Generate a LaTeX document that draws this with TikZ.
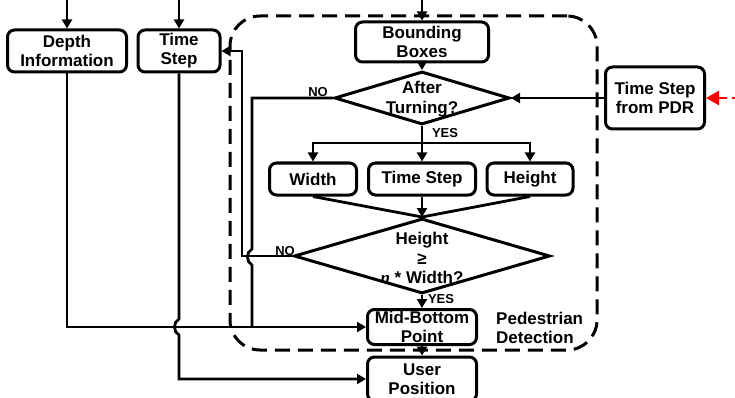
\documentclass[tikz,border=0pt]{standalone}
\usepackage{fontspec}
\setmainfont{Liberation Sans}
\newfontfamily\varserif{Liberation Serif}
\usetikzlibrary{arrows.meta,shapes.geometric,positioning}

\begin{document}
\begin{tikzpicture}[x=1pt,y=-1pt]
\tikzset{
  flowbox/.style={rectangle,rounded corners=7pt,draw=black,line width=3pt,inner sep=0pt,align=center,font=\fontsize{17}{19}\selectfont\bfseries},
  decision/.style={diamond,draw=black,line width=3pt,inner sep=0pt},
  flowtext/.style={align=center,inner sep=0pt,font=\fontsize{17}{19.5}\selectfont\bfseries},
  smalllabel/.style={inner sep=0pt,font=\fontsize{13}{14}\selectfont\bfseries},
  flowedge/.style={draw=black,line width=2.8pt},
  flowarrow/.style={flowedge,-{Triangle[length=9pt,width=10pt]}},
  pdrarrow/.style={draw=red,line width=2.8pt,dash pattern=on 8pt off 5pt,-{Triangle[length=13pt,width=14pt]}},
  region/.style={draw=black,line width=3pt,dash pattern=on 15pt off 8pt,rounded corners=30pt,inner sep=0pt}
}
\useasboundingbox (0,0) rectangle (735,398);
% pedestrian detection frame
\node[region,minimum width=367pt,minimum height=334pt] (n_region) at (413.5,183) {};
\node[flowtext,align=left,anchor=west] (t_region) at (496,328) {Pedestrian\\Detection};
% inputs
\node[flowbox,minimum width=119pt,minimum height=42pt] (n_depth) at (67,51) {Depth\\Information};
\node[flowbox,minimum width=82pt,minimum height=42pt] (n_tstep) at (179,51) {Time\\Step};
\node[flowbox,minimum width=133pt,minimum height=40pt] (n_bbox) at (422,42) {Bounding\\Boxes};
\node[flowbox,minimum width=99pt,minimum height=62pt] (n_pdr) at (655,98) {Time Step\\from PDR};
% decisions and features
\node[decision,minimum width=175pt,minimum height=53pt] (n_turn) at (422,98) {};
\node[flowtext] (t_turn) at (422,99) {After\\Turning?};
\node[flowbox,minimum width=87pt,minimum height=32pt] (n_width) at (313,179) {Width};
\node[flowbox,minimum width=107pt,minimum height=32pt] (n_tsm) at (422,179) {Time Step};
\node[flowbox,minimum width=86pt,minimum height=32pt] (n_height) at (530,179) {Height};
\node[decision,minimum width=256pt,minimum height=75pt] (n_ratio) at (422,256) {};
\node[flowtext] (t_ratio) at (422,258) {Height\\≥\\{\varserif\itshape n} * Width?};
% outputs
\node[flowbox,minimum width=109pt,minimum height=35pt] (n_mid) at (422,327) {Mid-Bottom\\Point};
\node[flowbox,minimum width=109pt,minimum height=44pt] (n_user) at (422,379) {User\\Position};
% labels
\node[smalllabel] (l_no1) at (318,92) {NO};
\node[smalllabel] (l_yes1) at (445,133) {YES};
\node[smalllabel] (l_no2) at (285,251) {NO};
\node[smalllabel] (l_yes2) at (441,299) {YES};
% helper points
\coordinate (c_depthin) at (67,-3);
\coordinate (c_tstepin) at (179,-3);
\coordinate (c_bboxin) at (422,-3);
\coordinate (c_pdrin) at (740,98);
\coordinate (c_split) at (422,143);
\coordinate (c_back) at (242,51);
\coordinate (c_no1) at (252,98);
\coordinate (c_hop1a) at (252,249);
\coordinate (c_hop1b) at (252,265);
\coordinate (c_no1end) at (252,327);
\coordinate (c_hop2a) at (179,319);
\coordinate (c_hop2b) at (179,335);
% connectors
\draw[flowarrow] (c_depthin) -- (n_depth.north);
\draw[flowarrow] (c_tstepin) -- (n_tstep.north);
\draw[flowarrow] (c_bboxin) -- (n_bbox.north);
\draw[flowarrow] (n_bbox.south) -- (n_turn.north);
\draw[flowarrow] (n_pdr.west) -- (n_turn.east);
\draw[pdrarrow] (c_pdrin) -- (n_pdr.east);
\draw[flowarrow] (n_turn.south) -- (n_tsm.north);
\draw[flowarrow] (c_split) -| (n_width.north);
\draw[flowarrow] (c_split) -| (n_height.north);
\draw[flowedge] (n_width.south) -- (n_ratio.north);
\draw[flowedge] (n_height.south) -- (n_ratio.north);
\draw[flowarrow] (n_tsm.south) -- (n_ratio.north);
\draw[flowarrow] (n_ratio.west) -| (c_back) -- (n_tstep.east);
\draw[flowedge] (n_turn.west) -- (c_no1) -- (c_hop1a) .. controls (246,252) and (246,262) .. (c_hop1b) -- (c_no1end);
\draw[flowarrow] (n_ratio.south) -- (n_mid.north);
\draw[flowarrow] (n_depth.south) |- (n_mid.west);
\draw[flowarrow] (n_tstep.south) -- (c_hop2a) .. controls (173,322) and (173,332) .. (c_hop2b) |- (n_user.west);
\draw[flowarrow] (n_mid.south) -- (n_user.north);
\end{tikzpicture}
\end{document}
